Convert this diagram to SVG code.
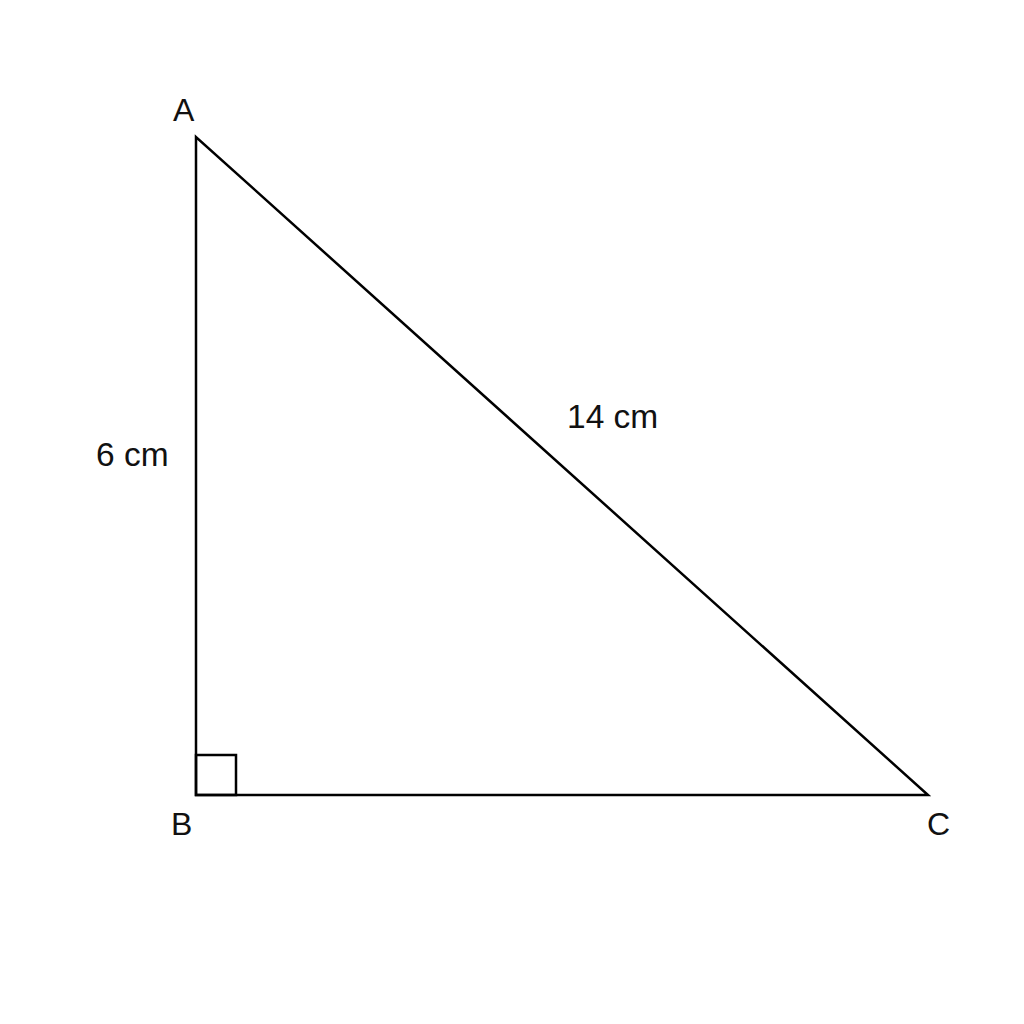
<svg xmlns="http://www.w3.org/2000/svg" width="1024" height="1024" viewBox="0 0 1024 1024">
<style>
.ln{fill:none;stroke:#000;stroke-width:2.5;stroke-linejoin:miter}
.lb{font-family:"Liberation Sans",Arial,sans-serif;font-size:32px;fill:#111}
.ms{font-size:33.5px}
</style>
<rect width="1024" height="1024" fill="#fff"/>
<g id="triangle">
<polygon class="ln" points="196,137 196,795 928,795"/>
<rect class="ln" x="196" y="755" width="40" height="40" stroke-width="2"/>
</g>
<g id="labels">
<text class="lb" x="173" y="121">A</text>
<text class="lb" x="171" y="835">B</text>
<text class="lb" x="927" y="835">C</text>
<text class="lb ms" x="96" y="466">6 cm</text>
<text class="lb ms" x="567" y="428">14 cm</text>
</g>
</svg>
